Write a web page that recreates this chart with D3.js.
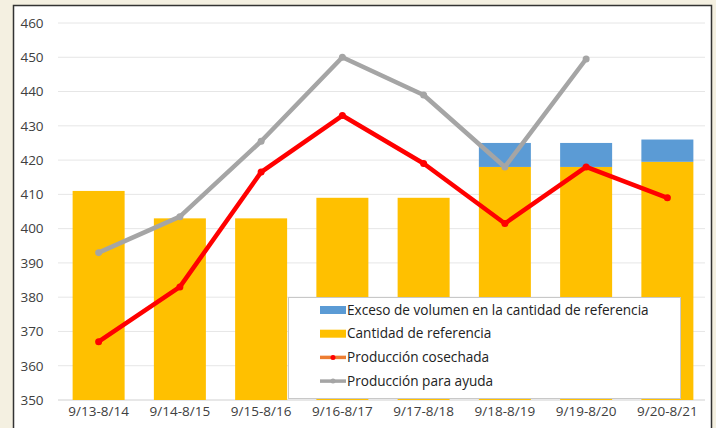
<!DOCTYPE html>
<html><head><meta charset="utf-8">
<script src="https://cdn.jsdelivr.net/npm/d3@7"></script>
<style>
html,body{margin:0;padding:0;background:#f4f0e1;}
svg{display:block;}
text{font-family:"Open Sans","DejaVu Sans",sans-serif;}
</style></head>
<body><svg id="c" width="716" height="428"></svg>
<script>
const categories = ["9/13-8/14","9/14-8/15","9/15-8/16","9/16-8/17","9/17-8/18","9/18-8/19","9/19-8/20","9/20-8/21"];
const cantidadReferencia = [411,403,403,409,409,418,418,419.5];
const excesoVolumen = [0,0,0,0,0,7,7,6.5];
const produccionCosechada = [367,383,416.5,433,419,401.5,418,409];
const produccionAyuda = [393,403.5,425.5,450,439,418,449.5,null];
const yTicks = [350,360,370,380,390,400,410,420,430,440,450,460];

const svg = d3.select("#c");
// chart frame
svg.append("rect").attr("x",13.5).attr("y",5.5).attr("width",698).attr("height",430)
  .attr("fill","#ffffff").attr("stroke","#333").attr("stroke-width",1.5);

const x = d3.scaleBand().domain(categories).range([58,708]).paddingInner(0.36).paddingOuter(0.18);
const y = d3.scaleLinear().domain([350,460]).range([400,23]);

// grid
svg.append("g").selectAll("line").data(yTicks).join("line")
  .attr("x1",58).attr("x2",705).attr("y1",d=>y(d)).attr("y2",d=>y(d))
  .attr("stroke",d=>d===350?"#d0d0d0":"#e6e6e6").attr("stroke-width",1);

// y axis labels
const yAxis = d3.axisLeft(y).tickValues(yTicks).tickSize(0).tickPadding(0);
const ga = svg.append("g").attr("transform","translate(32,0)").call(yAxis);
ga.select(".domain").remove();
ga.selectAll("text").attr("font-size",13.5).attr("fill","#404040").attr("text-anchor","middle").attr("dx",0);

// x axis labels
const xAxis = d3.axisBottom(x).tickSize(0).tickPadding(0);
const gx = svg.append("g").attr("transform","translate(0,406)").call(xAxis);
gx.select(".domain").remove();
gx.selectAll("text").attr("font-size",13.5).attr("fill","#404040");

// bars
svg.append("g").selectAll("rect").data(categories).join("rect")
  .attr("x",d=>x(d)).attr("width",x.bandwidth())
  .attr("y",(d,i)=>y(cantidadReferencia[i])).attr("height",(d,i)=>y(350)-y(cantidadReferencia[i]))
  .attr("fill","#ffc000");
svg.append("g").selectAll("rect").data(categories).join("rect")
  .attr("x",d=>x(d)).attr("width",x.bandwidth())
  .attr("y",(d,i)=>y(cantidadReferencia[i]+excesoVolumen[i])).attr("height",(d,i)=>y(cantidadReferencia[i])-y(cantidadReferencia[i]+excesoVolumen[i]))
  .attr("fill","#5b9bd5");

const cx = d=>x(d)+x.bandwidth()/2;
const line = d3.line().defined(d=>d.v!=null).x(d=>cx(d.c)).y(d=>y(d.v));
const grayData = categories.map((c,i)=>({c,v:produccionAyuda[i]}));
const redData = categories.map((c,i)=>({c,v:produccionCosechada[i]}));
svg.append("path").datum(grayData).attr("d",line).attr("fill","none").attr("stroke","#a5a5a5").attr("stroke-width",4.5).attr("stroke-linejoin","round");
svg.append("g").selectAll("circle").data(grayData.filter(d=>d.v!=null)).join("circle")
  .attr("cx",d=>cx(d.c)).attr("cy",d=>y(d.v)).attr("r",3.5).attr("fill","#a5a5a5");
svg.append("path").datum(redData).attr("d",line).attr("fill","none").attr("stroke","#ff0000").attr("stroke-width",4.5).attr("stroke-linejoin","round");
svg.append("g").selectAll("circle").data(redData).join("circle")
  .attr("cx",d=>cx(d.c)).attr("cy",d=>y(d.v)).attr("r",3.5).attr("fill","#ff0000");

// legend
const lg = svg.append("g");
lg.append("rect").attr("x",288.5).attr("y",297.5).attr("width",392).attr("height",101)
  .attr("fill","#ffffff").attr("stroke","#c8c8c8");
const items = [
  {t:"Exceso de volumen en la cantidad de referencia", type:"bar", c:"#5b9bd5"},
  {t:"Cantidad de referencia", type:"bar", c:"#ffc000"},
  {t:"Producción cosechada", type:"line", c:"#ff0000", lc:"#ed7d31"},
  {t:"Producción para ayuda", type:"line", c:"#a5a5a5", lc:"#a5a5a5"}
];
items.forEach((it,i)=>{
  const yy = 310 + i*23.7;
  if(it.type==="bar"){
    lg.append("rect").attr("x",320).attr("y",yy-4).attr("width",26).attr("height",8).attr("fill",it.c);
  } else {
    lg.append("line").attr("x1",320).attr("x2",346).attr("y1",yy).attr("y2",yy).attr("stroke",it.lc).attr("stroke-width",3.5);
    lg.append("circle").attr("cx",333).attr("cy",yy).attr("r",2.5).attr("fill",it.c);
  }
  lg.append("text").attr("x",347).attr("y",yy).attr("dy","0.35em").attr("font-size",13.6).attr("fill","#222").text(it.t);
});
</script></body></html>
